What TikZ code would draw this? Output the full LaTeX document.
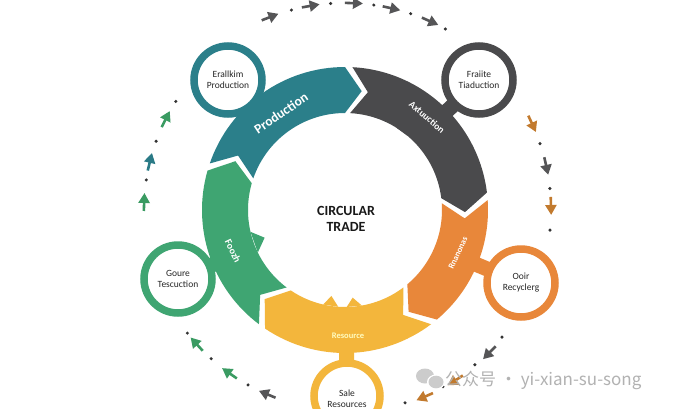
\documentclass[tikz,border=0pt]{standalone}
\usepackage{fontspec}
\setmainfont{Carlito}
\newfontfamily\cjkfont{Noto Sans CJK SC}
\usetikzlibrary{calc,arrows.meta}
\definecolor{tealc}{HTML}{2B7F8A}
\definecolor{grayc}{HTML}{4A4A4C}
\definecolor{orangec}{HTML}{E8873A}
\definecolor{yellowc}{HTML}{F3B63C}
\definecolor{greenc}{HTML}{3FA572}
\definecolor{arrgray}{HTML}{555557}
\definecolor{arrgreen}{HTML}{3A9B62}
\definecolor{arrorange}{HTML}{C27A2E}
\definecolor{arrteal}{HTML}{2A7A86}
\newcommand{\Rin}{97}
\newcommand{\Rout}{143}
\newcommand{\Rmid}{120}
\newcommand{\Dep}{8}
\newcommand{\ringseg}[3]{\fill[#3] (#1:\Rout) arc[start angle=#1,end angle=#2,radius=\Rout] -- ({#2-\Dep}:\Rmid) -- (#2:\Rin) arc[start angle=#2,end angle=#1,radius=\Rin] -- ({#1-\Dep}:\Rmid) -- cycle;}
\begin{document}
\begin{tikzpicture}[x=1pt,y=1pt,
  sat/.style={circle,draw=#1,line width=7.5pt,fill=white,minimum size=68pt,inner sep=0pt,align=center,text=black!85,font=\fontsize{9.5}{11}\selectfont},
  stem/.style={line width=15pt,#1},
  seglabel/.style={text=white,inner sep=0pt,font=\bfseries\fontsize{#1}{#1}\selectfont},
  oarr/.style={line width=2.6pt,-{Triangle[length=10pt,width=11pt]}},
  odot/.style={fill=black!80}]
\useasboundingbox (-345,-198) rectangle (347,210);
\clip (-345,-198) rectangle (347,210);
\fill[white] (-345,-198) rectangle (347,210);
\coordinate (C) at (0,0);
% satellite centres
\coordinate (sP) at (-117,130);
\coordinate (sF) at (134,130);
\coordinate (sG) at (-167,-69);
\coordinate (sO) at (176,-73);
\coordinate (sS) at (2,-186);
% stems
\draw[stem=tealc] (sP) -- ($(C)!120pt!(sP)$);
\draw[stem=grayc] (sF) -- ($(C)!120pt!(sF)$);
\draw[stem=greenc] (sG) -- ($(C)!120pt!(sG)$);
\draw[stem=orangec] (sO) -- ($(C)!120pt!(sO)$);
\draw[stem=yellowc] (sS) -- ($(C)!120pt!(sS)$);
% ring segments
\ringseg{161}{90}{tealc}
\ringseg{87}{7}{grayc}
\ringseg{4}{-50}{orangec}
\ringseg{-53}{-124}{yellowc}
\ringseg{-127}{-196}{greenc}
% small teeth
\fill[greenc] (-154:\Rin) -- (-161:85) -- (-167:\Rin) -- cycle;
\fill[yellowc] (-94:\Rin) -- (-99:87) -- (-103:\Rin) -- cycle;
\fill[yellowc] (-80:\Rin) -- (-85:88) -- (-89:\Rin) -- cycle;
\fill[grayc] (58:\Rin) -- (52:105) -- (50:\Rin) -- cycle;
% segment labels
\node[seglabel=13.5,rotate=34] (lP) at (-64,97) {Production};
\node[seglabel=9.5,rotate=-41] (lF) at (82,93) {Axtuuction};
\node[seglabel=8.5,rotate=65] (lO) at (113,-43) {Rnanonas};
\node[seglabel=8.5,text=yellow!25] (lS) at (3,-126) {Resource};
\node[seglabel=10,rotate=-64] (lG) at (-112,-41) {Foozh};
% centre text
\node[align=center,text=black!90,font=\bfseries\fontsize{14}{16}\selectfont] (ctr) at (1,-9) {CIRCULAR\\TRADE};
% satellites
\node[sat=tealc] (nP) at (sP) {Erallkim\\Production};
\node[sat=grayc] (nF) at (sF) {Fraiite\\Tiaduction};
\node[sat=greenc] (nG) at (sG) {Goure\\Tescuction};
\node[sat=orangec] (nO) at (sO) {Ooir\\Recyclerg};
\node[sat=yellowc,minimum size=66pt] (nS) at (sS) {\\[1pt]Sale\\Resources};
% outer dotted arrow trail
\foreach \a/\r/\c in {111.5/207/arrgray, 99.8/207/arrgray, 87.8/207/arrgray, 77.3/207/arrgray, 66/207/arrgray,
  25/206/arrorange, 12.6/206/arrgray, 1.4/206/arrorange,
  -44.4/203/arrgray, -56.8/203/arrorange, -66.6/203/arrorange,
  -112.6/200/arrgray, -125/200/arrgreen, -137.6/200/arrgreen,
  178/201/arrgreen, 166.4/201/arrteal, 153.4/201/arrgreen}
  \draw[oarr,\c] ($(\a:\r)+({\a+90}:8)$) -- ($(\a:\r)+({\a-90}:10)$);
\foreach \a/\r in {105/207, 94/207, 82/207, 71.5/207, 61/207,
  18.8/206, 6/206, -5.6/206,
  -39/202, -50/202, -61/202, -72.7/202,
  -142/200, -132/200, -119/200,
  171.4/201, 160/201, 147.3/201}
  \fill[odot] (\a:\r) circle (1.7);
% watermark
\fill[gray!40] (80,-166) ellipse (9 and 7.5);
\fill[white] (91,-172) ellipse (9 and 7.5);
\fill[gray!40] (91,-172) ellipse (7.5 and 6.3);
\node[anchor=west,inner sep=0pt,text=gray!60,font=\cjkfont\fontsize{17}{17}\selectfont] (wm) at (100,-170) {公众号 · yi-xian-su-song};
\end{tikzpicture}
\end{document}
